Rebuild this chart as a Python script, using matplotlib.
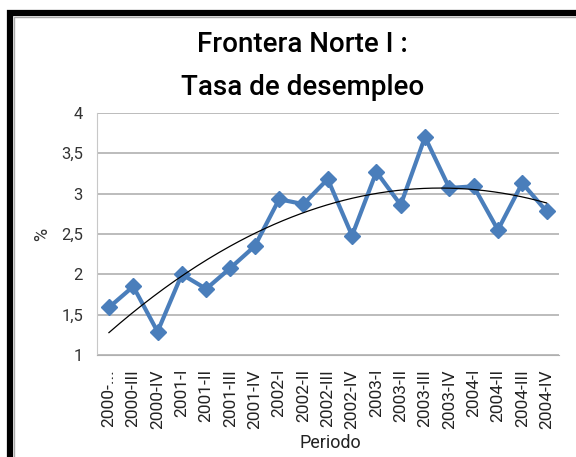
import numpy as np
import matplotlib.pyplot as plt
from matplotlib.patches import Rectangle

# Quarterly unemployment rate, Frontera Norte I
periods = ["2000-...", "2000-III", "2000-IV",
           "2001-I", "2001-II", "2001-III", "2001-IV",
           "2002-I", "2002-II", "2002-III", "2002-IV",
           "2003-I", "2003-II", "2003-III", "2003-IV",
           "2004-I", "2004-II", "2004-III", "2004-IV"]
rate = [1.59, 1.85, 1.29, 2.00, 1.82, 2.08, 2.35, 2.93, 2.87, 3.18, 2.48,
        3.27, 2.86, 3.70, 3.07, 3.09, 2.55, 3.13, 2.78]
y_ticks = [1, 1.5, 2, 2.5, 3, 3.5, 4]
y_labels = ["1", "1,5", "2", "2,5", "3", "3,5", "4"]

plt.rcParams['font.family'] = ['Roboto', 'DejaVu Sans']

fig = plt.figure(figsize=(5.76, 4.57), dpi=100)
ax = fig.add_axes([0.168, 0.223, 0.802, 0.530])

x = np.arange(len(rate))
ax.plot(x, rate, color="#4a7ebb", lw=3, marker="D", markersize=8, zorder=3)

# polynomial (order 2) trend line
coef = np.polyfit(x, rate, 2)
xs = np.linspace(0, len(rate) - 1, 200)
ax.plot(xs, np.polyval(coef, xs), color="black", lw=0.9, zorder=4)

ax.set_xlim(-0.5, len(rate) - 0.5)
ax.set_ylim(1, 4)
ax.set_yticks(y_ticks)
ax.set_yticklabels(y_labels, fontsize=12, color="#333333")
ax.set_xticks(x)
ax.set_xticklabels(periods, rotation=90, fontsize=12.5, color="#222222")
ax.tick_params(axis="y", length=0, pad=10)
ax.tick_params(axis="x", length=0, pad=10)
ax.yaxis.grid(True, color="#b0b0b0", lw=1.2)
ax.set_axisbelow(True)
for side in ["top", "right"]:
    ax.spines[side].set_visible(False)
ax.spines["left"].set_color("#c8c8c8")
ax.spines["bottom"].set_color("#b0b0b0")

fig.text(0.525, 0.903, "Frontera Norte I :", ha="center", va="center",
         fontsize=20, fontweight="medium")
fig.text(0.525, 0.808, "Tasa de desempleo", ha="center", va="center",
         fontsize=20, fontweight="medium")
fig.text(0.074, 0.488, "%", rotation=90, ha="center", va="center", fontsize=13, color="#333333")
fig.text(0.573, 0.03, "Periodo", ha="center", va="center", fontsize=13, color="#222222")

# thick black frame (left and top edges visible)
fig.patches.append(Rectangle((10 / 576, -0.1), 1.2, 1 - 13 / 457 + 0.1, transform=fig.transFigure,
                             fill=False, edgecolor="black", lw=4.5))
fig.patches.append(Rectangle((14 / 576, -0.1), 1.2, 1 - 17 / 457 + 0.1, transform=fig.transFigure,
                             fill=False, edgecolor="#aaaaaa", lw=1))

fig.savefig("out.png", dpi=100)
